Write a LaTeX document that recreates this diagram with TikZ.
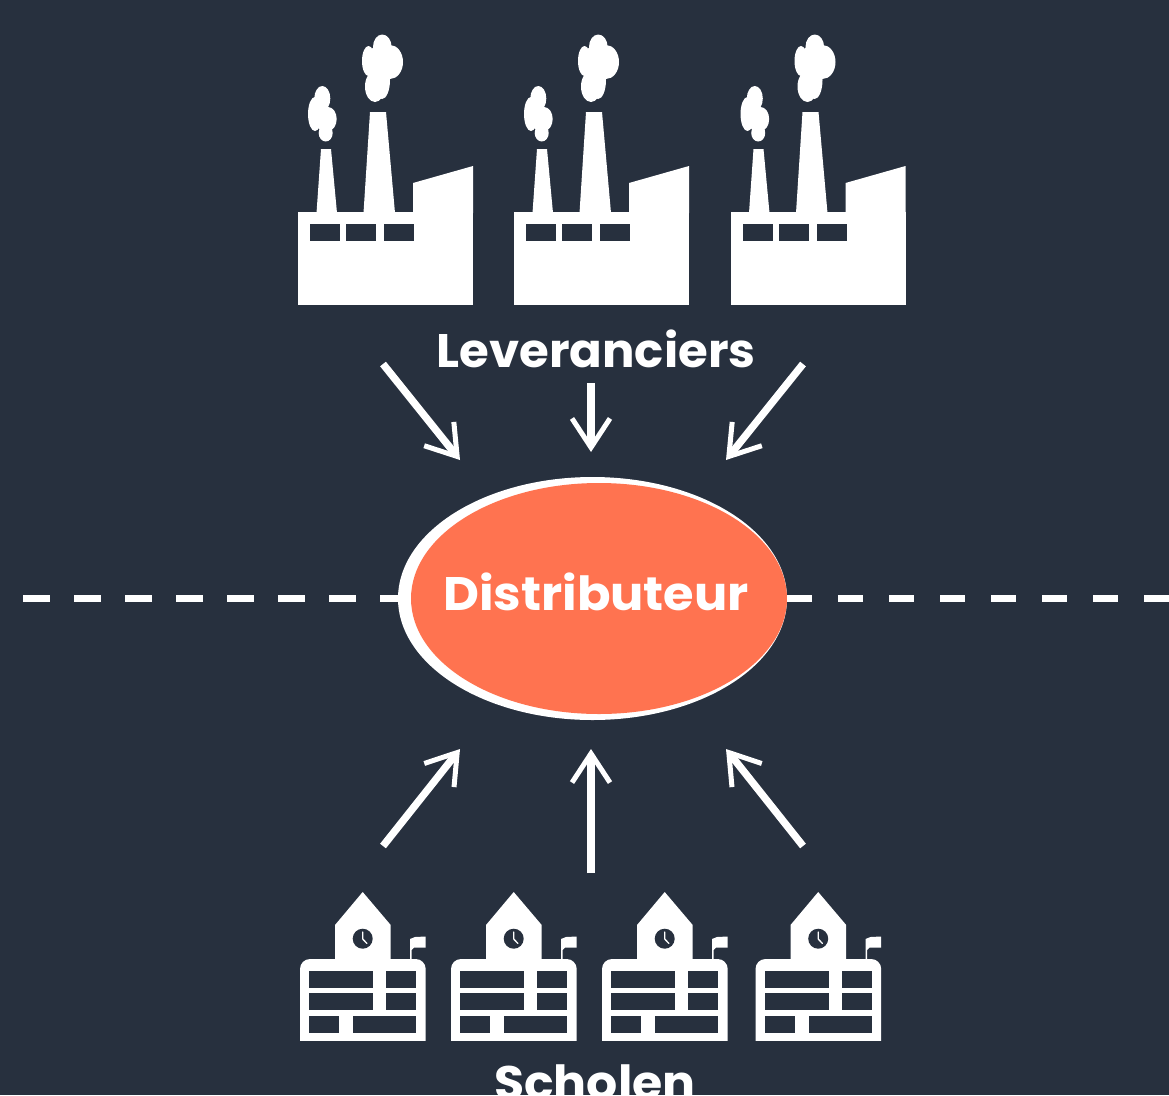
\documentclass[tikz,border=0pt]{standalone}
\usepackage{fontspec}
\setmainfont{Poppins}
\newfontfamily\lblA[FakeStretch=1.026]{Poppins}
\newfontfamily\lblB[FakeStretch=1.052]{Poppins}
\newfontfamily\lblC[FakeStretch=1.042]{Poppins}
\usetikzlibrary{arrows.meta,shapes.geometric}
\definecolor{bgdark}{HTML}{27303E}
\definecolor{coral}{HTML}{FF7350}
\tikzset{
  label text/.style={text=white,anchor=base,inner sep=0pt},
  flow/.style={draw=white,line width=7.4pt,-{Straight Barb[length=29pt,width=38pt,line width=5pt]}},
  divider/.style={draw=white,line width=7pt},
  factory/.pic={
    \fill[white] (298,212) rectangle (473,305);
    \fill[white] (413,213) -- (413,183) -- (473,166) -- (473,213) -- cycle;
    \fill[white] (316.5,213) -- (321,149) -- (331,149) -- (337,213) -- cycle;
    \fill[white] (363.5,213) -- (370,112) -- (386,112) -- (395,213) -- cycle;
    \fill[bgdark] (310,224) rectangle (340,241);
    \fill[bgdark] (346,224) rectangle (376,241);
    \fill[bgdark] (384,224) rectangle (414,241);
    \fill[white] (322.3,98.5) ellipse [x radius=8pt,y radius=12.5pt];
    \fill[white] (315,114) ellipse [x radius=7pt,y radius=17pt];
    \fill[white] (328,119) ellipse [x radius=8.7pt,y radius=12pt];
    \fill[white] (325.7,133) ellipse [x radius=7pt,y radius=8.5pt];
    \fill[white] (322,116) ellipse [x radius=8pt,y radius=14pt];
    \fill[white] (382.3,47) ellipse [x radius=9.3pt,y radius=12.5pt];
    \fill[white] (368.5,61) ellipse [x radius=6.5pt,y radius=15pt];
    \fill[white] (390,62) ellipse [x radius=13pt,y radius=17pt];
    \fill[white] (375,86.5) ellipse [x radius=10pt,y radius=15.5pt];
    \fill[white] (382,80) ellipse [x radius=8pt,y radius=19pt];
    \fill[white] (378,62) ellipse [x radius=11pt,y radius=16pt];
  },
  school/.pic={
    \fill[white,rounded corners=10pt] (300,1060) -- (300,959) -- (425.7,959) -- (425.7,1060) -- cycle;
    \fill[white] (335,960) -- (335,925) -- (362.7,892) -- (390.7,925) -- (390.7,960) -- cycle;
    \fill[bgdark] (362.7,938.7) circle (10pt);
    \draw[white,line width=1.3pt,line cap=round] (362.7,932) -- (362.7,939) -- (367,943.5);
    \fill[white] (410,959) -- (410,939) -- (415,937) -- (425.7,936.5) -- (425.7,947.5) -- (414,947.5) -- (411.5,950) -- (411.5,959) -- cycle;
    \fill[bgdark] (309,971) rectangle (373,988);
    \fill[bgdark] (386,971) rectangle (416,988);
    \fill[bgdark] (309,993) rectangle (373,1010);
    \fill[bgdark] (386,993) rectangle (416,1010);
    \fill[bgdark] (309,1016) rectangle (339,1033);
    \fill[bgdark] (353,1016) rectangle (416,1033);
    \fill[bgdark] (295,1041) rectangle (431,1065);
  }
}
\begin{document}
\begin{tikzpicture}[x=1pt,y=-1pt]
\useasboundingbox (0,0) rectangle (1169,1095);
\fill[bgdark] (0,0) rectangle (1169,1095);
% factories
\pic at (0,0) {factory};
\pic at (216,0) {factory};
\pic at (432.5,0) {factory};
% schools
\pic at (0,0) {school};
\pic at (151,0) {school};
\pic at (302,0) {school};
\pic at (455.5,0) {school};
% centre
\node[ellipse,fill=white,minimum width=389pt,minimum height=243pt,inner sep=0pt] (halo) at (592.5,598.5) {};
\node[ellipse,fill=coral,minimum width=376pt,minimum height=231pt,inner sep=0pt] (hub) at (599,598.5) {};
\node[label text,font=\lblB\bfseries\fontsize{47}{50}\selectfont] (hubtext) at (596,610) {Distributeur};
\node[label text,font=\lblA\bfseries\fontsize{47}{50}\selectfont] (leverancier) at (596,367) {Leveranciers};
\node[label text,font=\lblC\bfseries\fontsize{47}{50}\selectfont] (scholen) at (595,1099) {Scholen};
% divider
\coordinate (dleft) at (23,598);
\coordinate (dright) at (1169,598);
\draw[divider,dash pattern=on 27pt off 24pt] (dleft) -- (halo.west |- dleft);
\draw[divider,dash pattern=on 25pt off 26pt] (hub.east |- dright) -- (dright);
% arrows
\coordinate (a1s) at (383,364); \coordinate (a1e) at (460,460);
\coordinate (a2s) at (591,383); \coordinate (a2e) at (591,452);
\coordinate (a3s) at (803,364); \coordinate (a3e) at (726,460);
\coordinate (b1s) at (383,846); \coordinate (b1e) at (460,749);
\coordinate (b2s) at (591,873); \coordinate (b2e) at (591,749);
\coordinate (b3s) at (803,846); \coordinate (b3e) at (726,749);
\draw[flow] (a1s) -- (a1e);
\draw[flow] (a2s) -- (a2e);
\draw[flow] (a3s) -- (a3e);
\draw[flow] (b1s) -- (b1e);
\draw[flow] (b2s) -- (b2e);
\draw[flow] (b3s) -- (b3e);
\end{tikzpicture}
\end{document}
